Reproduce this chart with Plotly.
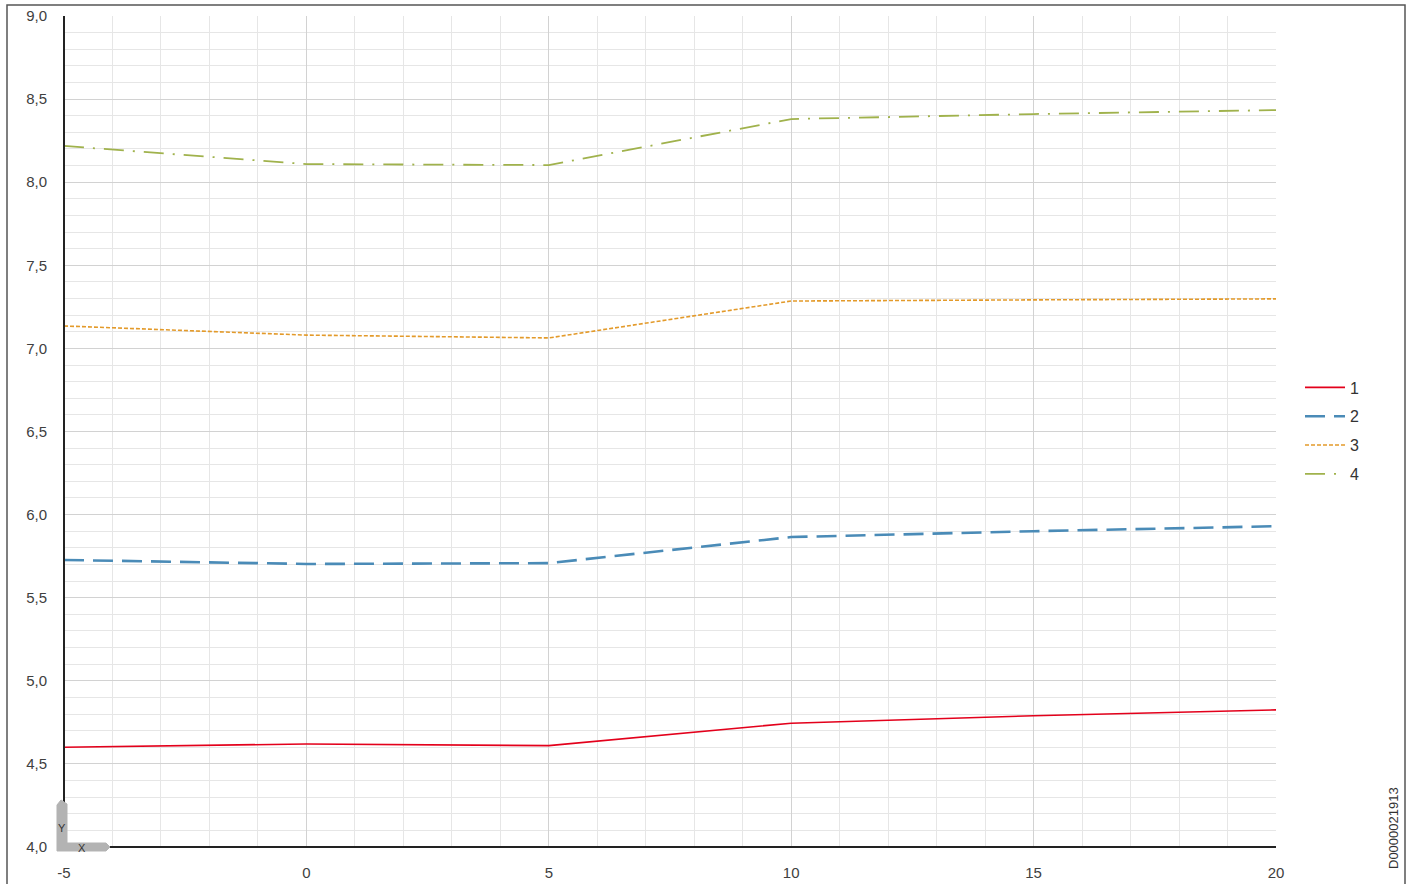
import plotly.graph_objects as go

# Outdoor temperature (x) and values of the four curves
x_vals = [-5, 0, 5, 10, 15, 20]
curve_1 = [4.60, 4.62, 4.61, 4.745, 4.79, 4.825]
curve_2 = [5.727, 5.703, 5.708, 5.865, 5.90, 5.93]
curve_3 = [7.135, 7.08, 7.063, 7.285, 7.292, 7.298]
curve_4 = [8.218, 8.109, 8.103, 8.38, 8.41, 8.434]
series_names = ["1", "2", "3", "4"]

x_tick_vals = [-5, 0, 5, 10, 15, 20]
x_tick_text = ["-5", "0", "5", "10", "15", "20"]
y_tick_vals = [4.0, 4.5, 5.0, 5.5, 6.0, 6.5, 7.0, 7.5, 8.0, 8.5, 9.0]
y_tick_text = ["4,0", "4,5", "5,0", "5,5", "6,0", "6,5", "7,0", "7,5", "8,0", "8,5", "9,0"]

W, H = 1413, 884
L, R, T, B = 64, 1276, 16, 847
FONT = "Liberation Sans, Arial, sans-serif"


def px_x(p):
    return (p - L) / (R - L)


def px_y(p):
    return (B - p) / (B - T)


styles = [
    dict(color="#e3001b", width=1.6, dash="solid"),
    dict(color="#4a8bb7", width=2.6, dash="20px,9px"),
    dict(color="#e39a2a", width=1.6, dash="4px,2px"),
    dict(color="#a0b24c", width=1.8, dash="20px,9px,2px,9px"),
]

fig = go.Figure()
for name, ys, st in zip(series_names, [curve_1, curve_2, curve_3, curve_4], styles):
    fig.add_trace(go.Scatter(x=x_vals, y=ys, mode="lines", name=name, line=st,
                             legendgroup=name))

axis_common = dict(
    showline=False,
    zeroline=False,
    automargin=False,
    ticks="",
    tickfont=dict(family=FONT, size=15, color="#404040"),
    gridcolor="#d2d2d2",
    gridwidth=1,
)

fig.update_xaxes(
    range=[-5, 20],
    tickmode="array",
    tickvals=x_tick_vals,
    ticktext=x_tick_text,
    minor=dict(dtick=1, tick0=-5, showgrid=True, gridcolor="#e6e6e6", gridwidth=1),
    ticklabelstandoff=15,
    **axis_common,
)
fig.update_yaxes(
    range=[4.0, 9.0],
    tickmode="array",
    tickvals=y_tick_vals,
    ticktext=y_tick_text,
    minor=dict(dtick=0.1, tick0=4.0, showgrid=True, gridcolor="#e6e6e6", gridwidth=1),
    ticklabelstandoff=16,
    **axis_common,
)

shapes = [
    # outer frame
    dict(type="rect", xref="paper", yref="paper",
         x0=px_x(7), x1=px_x(1405), y0=px_y(900), y1=px_y(5),
         line=dict(color="#555555", width=1.5), fillcolor="rgba(0,0,0,0)", layer="below"),
    # axis lines
    dict(type="line", xref="paper", yref="paper",
         x0=0, x1=0, y0=0, y1=1, line=dict(color="#222222", width=2), layer="above"),
    dict(type="line", xref="paper", yref="paper",
         x0=0, x1=1, y0=0, y1=0, line=dict(color="#222222", width=2), layer="above"),
]

# gray axis-orientation marker in the corner
corner = [(57, 851), (57, 805), (61, 800), (67, 804), (67, 843),
          (106, 843), (110, 847), (106, 851)]
path = "M " + " L ".join(f"{px_x(a):.5f},{px_y(b):.5f}" for a, b in corner) + " Z"
shapes.append(dict(type="path", xref="paper", yref="paper", path=path,
                   fillcolor="#b3b3b3", line=dict(color="#b3b3b3", width=1), layer="above"))

annotations = [
    dict(x=px_x(62), y=px_y(828), xref="paper", yref="paper", text="Y", showarrow=False,
         xanchor="center", yanchor="middle",
         font=dict(family=FONT, size=11, color="#333333")),
    dict(x=px_x(82), y=px_y(848), xref="paper", yref="paper", text="X", showarrow=False,
         xanchor="center", yanchor="middle",
         font=dict(family=FONT, size=11, color="#333333")),
    dict(x=px_x(1393), y=px_y(828), xref="paper", yref="paper", text="D0000021913",
         showarrow=False, textangle=-90, xanchor="center", yanchor="middle",
         font=dict(family=FONT, size=13, color="#333333")),
]

fig.update_layout(
    width=W,
    height=H,
    margin=dict(l=L, r=W - R, t=T, b=H - B, autoexpand=False),
    paper_bgcolor="white",
    plot_bgcolor="white",
    showlegend=True,
    legend=dict(
        x=px_x(1300), y=px_y(431), xanchor="left", yanchor="middle",
        font=dict(family=FONT, size=16, color="#333333"),
        tracegroupgap=5, itemwidth=40,
        bgcolor="rgba(0,0,0,0)",
    ),
    shapes=shapes,
    annotations=annotations,
)

fig.write_html("out.html")
